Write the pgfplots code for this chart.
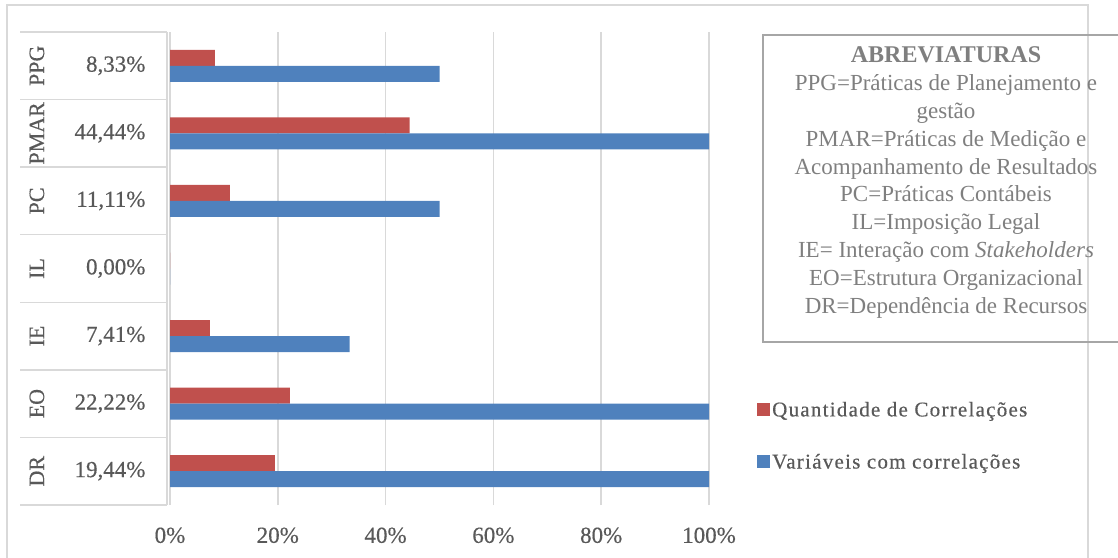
\documentclass[border=0pt]{standalone}
\usepackage{pgfplots}
\pgfplotsset{compat=1.18}
\usepackage{fontspec}
\setmainfont{Liberation Serif}
\newfontfamily\chartfont[FakeBold=0.4]{Liberation Serif}
\newfontfamily\legfont[FakeBold=0.4,LetterSpace=6]{Liberation Serif}
\newfontfamily\boxfont{Liberation Serif}
\definecolor{myred}{HTML}{C0504D}
\definecolor{myblue}{HTML}{4F81BD}
\definecolor{txt}{HTML}{595959}
\definecolor{grd}{HTML}{D9D9D9}
\definecolor{boxtxt}{HTML}{7F7F7F}
\definecolor{boxln}{HTML}{A6A6A6}
\tikzset{catname/.style={rotate=90, text=txt, font=\chartfont\fontsize{22}{26}\selectfont}}
\begin{document}
\begin{tikzpicture}[x=1pt,y=1pt]
\path[use as bounding box] (0,0) rectangle (1118,557);
% outer frame
\draw[grd, line width=1.5pt] (7,-10) -- (7,552) -- (1088,552) -- (1088,-10);
\begin{axis}[
  at={(170pt,52pt)}, anchor=south west,
  scale only axis, width=539pt, height=473pt,
  xmin=0, xmax=100, ymin=-0.5, ymax=6.5,
  xbar, bar width=16pt,
  clip=false,
  axis line style={draw=none},
  major tick length=0pt,
  xmajorgrids, grid style={grd, line width=1.5pt},
  xtick={0,20,40,60,80,100},
  xticklabels={0\%,20\%,40\%,60\%,80\%,100\%},
  xticklabel style={font=\chartfont\fontsize{23}{27}\selectfont, text=txt, yshift=-19pt},
  ytick={0,1,2,3,4,5,6},
  yticklabels={{19,44\%},{22,22\%},{7,41\%},{0,00\%},{11,11\%},{44,44\%},{8,33\%}},
  yticklabel style={font=\chartfont\fontsize{23}{27}\selectfont, text=txt, anchor=east, xshift=-21pt},
  legend style={at={(axis description cs:1.089,0.146)}, anchor=west, draw=none, fill=none,
    font=\legfont\fontsize{21}{25}\selectfont, text=txt, row sep=32pt, inner sep=0pt},
  legend cell align=left,
  legend image code/.code={\fill[#1] (0pt,-6.5pt) rectangle (13pt,6.5pt);},
]
\addplot[fill=myred, draw=none, bar shift=8pt] coordinates {(19.44,0) (22.22,1) (7.41,2) (0,3) (11.11,4) (44.44,5) (8.33,6)};
\addlegendentry{Quantidade de Correlações}
\addplot[fill=myblue, draw=none, bar shift=-8pt] coordinates {(100,0) (100,1) (33.33,2) (0,3) (50,4) (100,5) (50,6)};
\addlegendentry{Variáveis com correlações}
% label table
\pgfplotsinvokeforeach{-0.5,0.5,1.5,2.5,3.5,4.5,5.5,6.5}{
  \draw[grd, line width=1.5pt] (axis cs:-27.8,#1) -- (axis cs:-0.55,#1);
}
\draw[grd, line width=1.5pt] (axis cs:-0.55,-0.5) -- (axis cs:-0.55,6.5);
\node[catname] at (axis cs:-24.7,0) {DR};
\node[catname] at (axis cs:-24.7,1) {EO};
\node[catname] at (axis cs:-24.7,2) {IE};
\node[catname] at (axis cs:-24.7,3) {IL};
\node[catname] at (axis cs:-24.7,4) {PC};
\node[catname] at (axis cs:-24.7,5) {PMAR};
\node[catname] at (axis cs:-24.7,6) {PPG};
\end{axis}
% abbreviations box
\draw[boxln, line width=2pt] (763,522) rectangle (1130,215);
\begin{scope}[every node/.style={anchor=base, text=boxtxt, font=\boxfont\fontsize{23}{27}\selectfont, inner sep=0pt}]
\node[font=\boxfont\fontsize{24}{28}\selectfont] at (946,494) {\textbf{ABREVIATURAS}};
\node at (946,466.2) {PPG=Práticas de Planejamento e};
\node at (946,438.4) {gestão};
\node at (946,410.6) {PMAR=Práticas de Medição e};
\node at (946,382.8) {Acompanhamento de Resultados};
\node at (946,355) {PC=Práticas Contábeis};
\node at (946,327.2) {IL=Imposição Legal};
\node at (946,299.4) {IE= Interação com \textit{Stakeholders}};
\node at (946,271.6) {EO=Estrutura Organizacional};
\node at (946,243.8) {DR=Dependência de Recursos};
\end{scope}
\end{tikzpicture}
\end{document}
